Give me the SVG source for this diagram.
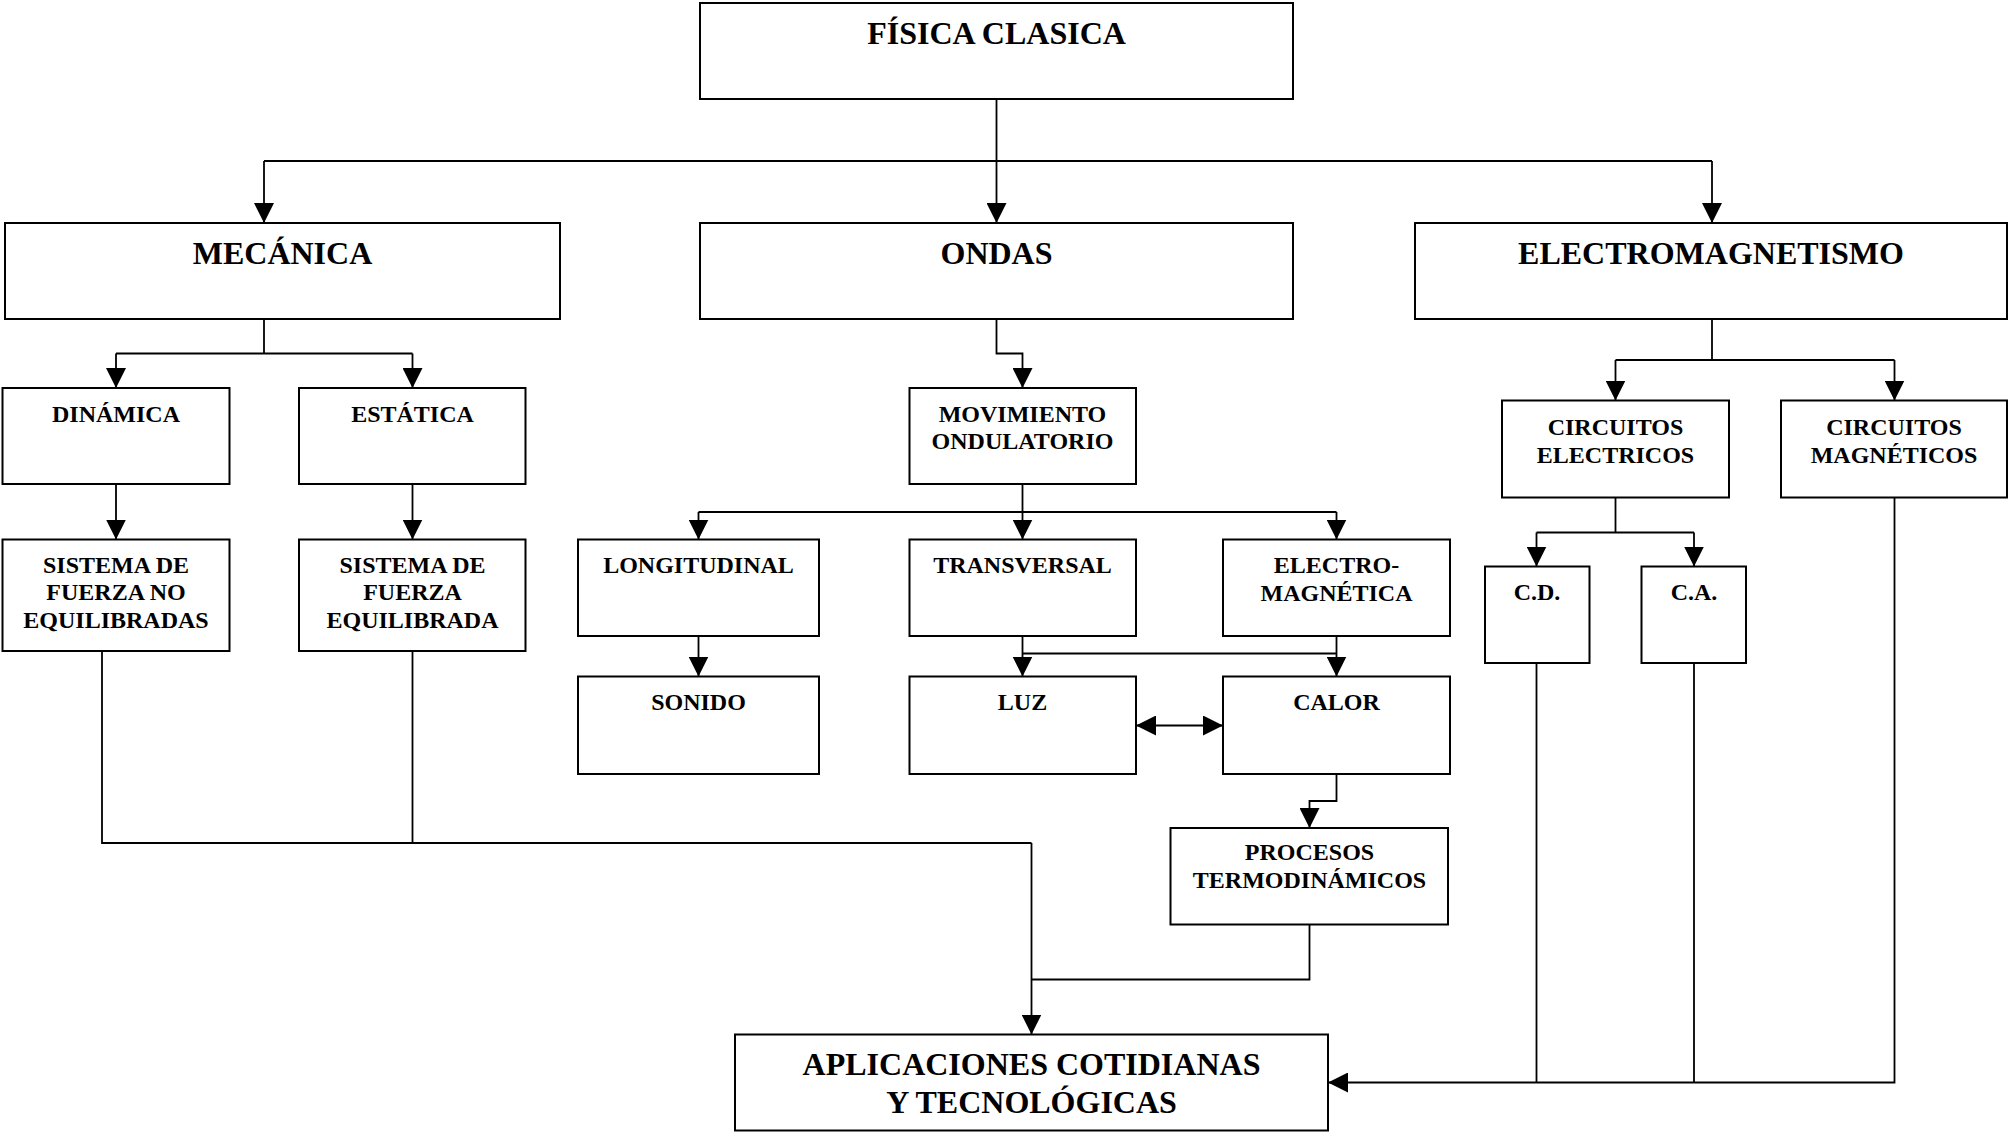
<svg xmlns="http://www.w3.org/2000/svg" width="2009" height="1133" viewBox="0 0 2009 1133">
  <style>
    .box { fill: #ffffff; stroke: #000000; stroke-width: 2; }
    .link { fill: none; stroke: #000000; stroke-width: 1.8; }
    .t { font-family: "Liberation Serif", "Times New Roman", serif; font-weight: bold; fill: #000000; text-anchor: middle; }
    .big { font-size: 32px; }
    .small { font-size: 24px; }
  </style>
  <defs>
    <marker id="arrow" markerUnits="userSpaceOnUse" markerWidth="20" markerHeight="20" viewBox="0 0 20 20" refX="20" refY="10" orient="auto">
      <path d="M0,0 L20,10 L0,20 z" fill="#000000"/>
    </marker>
    <marker id="arrowStart" markerUnits="userSpaceOnUse" markerWidth="20" markerHeight="20" viewBox="0 0 20 20" refX="0" refY="10" orient="auto">
      <path d="M20,0 L0,10 L20,20 z" fill="#000000"/>
    </marker>
  </defs>

  <rect width="2009" height="1133" fill="#ffffff"/>

  <!-- connectors -->
  <g id="connectors">
    <!-- Física clásica to the three branches -->
    <path class="link" d="M996.5,99 V161"/>
    <path class="link" d="M264,161 H1712"/>
    <path class="link" d="M264,161 V223" marker-end="url(#arrow)"/>
    <path class="link" d="M996.5,161 V223" marker-end="url(#arrow)"/>
    <path class="link" d="M1712,161 V223" marker-end="url(#arrow)"/>

    <!-- Mecánica -->
    <path class="link" d="M264,319 V353.5 M116,353.5 H412.5"/>
    <path class="link" d="M116,353.5 V388" marker-end="url(#arrow)"/>
    <path class="link" d="M412.5,353.5 V388" marker-end="url(#arrow)"/>
    <path class="link" d="M116,484 V539.5" marker-end="url(#arrow)"/>
    <path class="link" d="M412.5,484 V539.5" marker-end="url(#arrow)"/>
    <path class="link" d="M102,651 V843 H1031.5 M412.5,651 V843"/>
    <path class="link" d="M1031.5,843 V1034.5" marker-end="url(#arrow)"/>

    <!-- Ondas -->
    <path class="link" d="M996.5,319 V353.5 H1022.5 V388" marker-end="url(#arrow)"/>
    <path class="link" d="M1022.5,484 V512 M698.5,512 H1336.5"/>
    <path class="link" d="M698.5,512 V539.5" marker-end="url(#arrow)"/>
    <path class="link" d="M1022.5,512 V539.5" marker-end="url(#arrow)"/>
    <path class="link" d="M1336.5,512 V539.5" marker-end="url(#arrow)"/>
    <path class="link" d="M698.5,636 V676.5" marker-end="url(#arrow)"/>
    <path class="link" d="M1022.5,636 V676.5" marker-end="url(#arrow)"/>
    <path class="link" d="M1022.5,653.5 H1336.5"/>
    <path class="link" d="M1336.5,636 V676.5" marker-end="url(#arrow)"/>
    <path class="link" d="M1136,725.5 H1223" marker-start="url(#arrowStart)" marker-end="url(#arrow)"/>
    <path class="link" d="M1336.5,774 V801 H1309.5 V828" marker-end="url(#arrow)"/>
    <path class="link" d="M1309.5,924.5 V979.5 H1031.5"/>

    <!-- Electromagnetismo -->
    <path class="link" d="M1712,319 V360 M1615.5,360 H1894.5"/>
    <path class="link" d="M1615.5,360 V400.5" marker-end="url(#arrow)"/>
    <path class="link" d="M1894.5,360 V400.5" marker-end="url(#arrow)"/>
    <path class="link" d="M1615.5,497.5 V532.5 M1536.5,532.5 H1694"/>
    <path class="link" d="M1536.5,532.5 V566.5" marker-end="url(#arrow)"/>
    <path class="link" d="M1694,532.5 V566.5" marker-end="url(#arrow)"/>
    <path class="link" d="M1536.5,663 V1082.5 M1694,663 V1082.5"/>
    <path class="link" d="M1894.5,497.5 V1082.5 H1328" marker-end="url(#arrow)"/>
  </g>

  <!-- nodes -->
  <g id="fisica-clasica">
    <rect class="box" x="700" y="3" width="593" height="96"/>
    <text class="t big" x="996.5" y="43.5">FÍSICA CLASICA</text>
  </g>
  <g id="mecanica">
    <rect class="box" x="5" y="223" width="555" height="96"/>
    <text class="t big" x="282.5" y="264">MECÁNICA</text>
  </g>
  <g id="ondas">
    <rect class="box" x="700" y="223" width="593" height="96"/>
    <text class="t big" x="996.5" y="264">ONDAS</text>
  </g>
  <g id="electromagnetismo">
    <rect class="box" x="1415" y="223" width="592" height="96"/>
    <text class="t big" x="1711" y="264">ELECTROMAGNETISMO</text>
  </g>
  <g id="dinamica">
    <rect class="box" x="2.5" y="388" width="227" height="96"/>
    <text class="t small" x="116" y="421.5">DINÁMICA</text>
  </g>
  <g id="estatica">
    <rect class="box" x="299" y="388" width="226.5" height="96"/>
    <text class="t small" x="412.5" y="421.5">ESTÁTICA</text>
  </g>
  <g id="sistema-no-equilibradas">
    <rect class="box" x="2.5" y="539.5" width="227" height="111.5"/>
    <text class="t small" x="116" y="572.5">SISTEMA DE</text>
    <text class="t small" x="116" y="600">FUERZA NO</text>
    <text class="t small" x="116" y="627.5">EQUILIBRADAS</text>
  </g>
  <g id="sistema-equilibrada">
    <rect class="box" x="299" y="539.5" width="226.5" height="111.5"/>
    <text class="t small" x="412.5" y="572.5">SISTEMA DE</text>
    <text class="t small" x="412.5" y="600">FUERZA</text>
    <text class="t small" x="412.5" y="627.5">EQUILIBRADA</text>
  </g>
  <g id="movimiento-ondulatorio">
    <rect class="box" x="909.5" y="388" width="226.5" height="96"/>
    <text class="t small" x="1022.5" y="421.5">MOVIMIENTO</text>
    <text class="t small" x="1022.5" y="449">ONDULATORIO</text>
  </g>
  <g id="longitudinal">
    <rect class="box" x="578" y="539.5" width="241" height="96.5"/>
    <text class="t small" x="698.5" y="572.5">LONGITUDINAL</text>
  </g>
  <g id="transversal">
    <rect class="box" x="909.5" y="539.5" width="226.5" height="96.5"/>
    <text class="t small" x="1022.5" y="572.5">TRANSVERSAL</text>
  </g>
  <g id="electro-magnetica">
    <rect class="box" x="1223" y="539.5" width="227" height="96.5"/>
    <text class="t small" x="1336.5" y="573">ELECTRO-</text>
    <text class="t small" x="1336.5" y="600.5">MAGNÉTICA</text>
  </g>
  <g id="sonido">
    <rect class="box" x="578" y="676.5" width="241" height="97.5"/>
    <text class="t small" x="698.5" y="710">SONIDO</text>
  </g>
  <g id="luz">
    <rect class="box" x="909.5" y="676.5" width="226.5" height="97.5"/>
    <text class="t small" x="1022.5" y="710">LUZ</text>
  </g>
  <g id="calor">
    <rect class="box" x="1223" y="676.5" width="227" height="97.5"/>
    <text class="t small" x="1336.5" y="710">CALOR</text>
  </g>
  <g id="procesos-termodinamicos">
    <rect class="box" x="1170.5" y="828" width="277.5" height="96.5"/>
    <text class="t small" x="1309.5" y="860">PROCESOS</text>
    <text class="t small" x="1309.5" y="888">TERMODINÁMICOS</text>
  </g>
  <g id="circuitos-electricos">
    <rect class="box" x="1502" y="400.5" width="227" height="97"/>
    <text class="t small" x="1615.5" y="435">CIRCUITOS</text>
    <text class="t small" x="1615.5" y="463">ELECTRICOS</text>
  </g>
  <g id="circuitos-magneticos">
    <rect class="box" x="1781" y="400.5" width="226" height="97"/>
    <text class="t small" x="1894" y="435">CIRCUITOS</text>
    <text class="t small" x="1894" y="463">MAGNÉTICOS</text>
  </g>
  <g id="cd">
    <rect class="box" x="1485" y="566.5" width="104.5" height="96.5"/>
    <text class="t small" x="1537" y="600">C.D.</text>
  </g>
  <g id="ca">
    <rect class="box" x="1641.5" y="566.5" width="104.5" height="96.5"/>
    <text class="t small" x="1694" y="600">C.A.</text>
  </g>
  <g id="aplicaciones">
    <rect class="box" x="735" y="1034.5" width="593" height="96"/>
    <text class="t big" x="1031.5" y="1074.5">APLICACIONES COTIDIANAS</text>
    <text class="t big" x="1031.5" y="1113">Y TECNOLÓGICAS</text>
  </g>
</svg>
